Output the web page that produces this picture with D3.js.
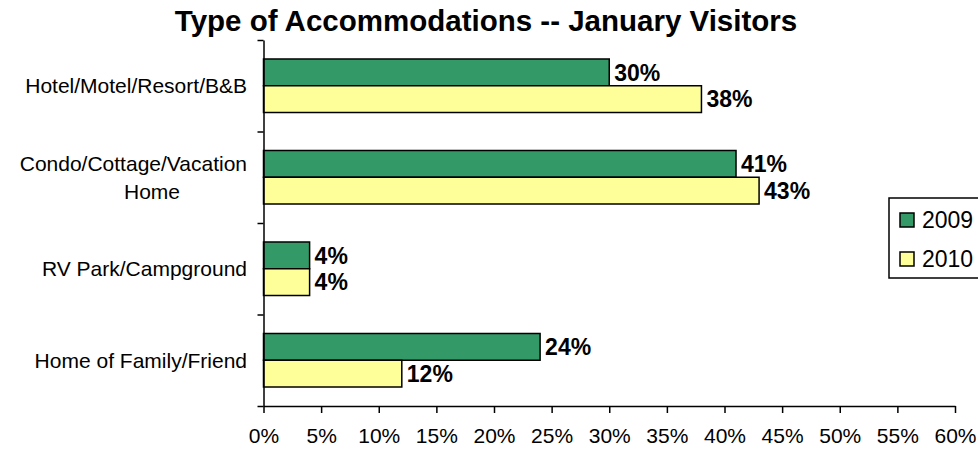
<!DOCTYPE html>
<meta charset="utf-8">
<html>
<head>
<style>
  body { margin: 0; background: #fff; }
  svg { display: block; font-family: "Liberation Sans", Arial, sans-serif; }
  .axis path, .axis line { stroke: #000; stroke-width: 1.5px; }
  .axis text { font-size: 21px; fill: #000; }
  .cat { font-size: 21px; fill: #000; }
  .val { font-size: 23px; font-weight: bold; fill: #000; }
</style>
<script src="https://d3js.org/d3.v7.min.js"></script>
</head>
<body>
<svg width="978" height="450"></svg>
<script>

var title = "Type of Accommodations -- January Visitors";
var categories = ["Hotel/Motel/Resort/B&B", "Condo/Cottage/Vacation Home", "RV Park/Campground", "Home of Family/Friend"];
var catLines = [["Hotel/Motel/Resort/B&B"], ["Condo/Cottage/Vacation", "Home"], ["RV Park/Campground"], ["Home of Family/Friend"]];
var seriesNames = ["2009", "2010"];
var values2009 = [30, 41, 4, 24];
var values2010 = [38, 43, 4, 12];
var xTicks = [0, 5, 10, 15, 20, 25, 30, 35, 40, 45, 50, 55, 60];
var colors = ["#339966", "#FFFF99"];

var svg = d3.select("svg");
var plotLeft = 263.5, plotRight = 955, plotTop = 40, plotBottom = 406;

var x = d3.scaleLinear().domain([0, 60]).range([plotLeft, plotRight]);
var y = d3.scaleBand().domain(categories).range([plotTop, plotBottom]);
var y1 = d3.scaleBand().domain(seriesNames).range([0, y.bandwidth()]).paddingOuter(0.71);
var yEdge = d3.scaleLinear().domain([0, categories.length]).range([plotTop, plotBottom]);
var color = d3.scaleOrdinal().domain(seriesNames).range(colors);

var rows = categories.map(function(c, i) {
  return { cat: c, vals: [{ s: "2009", v: values2009[i] }, { s: "2010", v: values2010[i] }] };
});

// title
svg.append("text")
  .attr("x", 486).attr("y", 31)
  .attr("text-anchor", "middle")
  .style("font-size", "29.5px").style("font-weight", "bold")
  .text(title);

// bars
var groups = svg.selectAll(".grp").data(rows).enter().append("g")
  .attr("class", "grp")
  .attr("transform", function(d) { return "translate(0," + y(d.cat) + ")"; });

groups.selectAll("rect").data(function(d) { return d.vals; }).enter().append("rect")
  .attr("x", x(0))
  .attr("y", function(d) { return y1(d.s); })
  .attr("width", function(d) { return x(d.v) - x(0); })
  .attr("height", y1.bandwidth())
  .attr("fill", function(d) { return color(d.s); })
  .attr("stroke", "#000").attr("stroke-width", 1.5);

groups.selectAll(".val").data(function(d) { return d.vals; }).enter().append("text")
  .attr("class", "val")
  .attr("x", function(d) { return x(d.v) + 5; })
  .attr("y", function(d) { return y1(d.s) + y1.bandwidth() / 2; })
  .attr("dy", "0.36em")
  .text(function(d) { return d.v + "%"; });

// x axis
svg.append("g").attr("class", "axis")
  .attr("transform", "translate(0," + plotBottom + ")")
  .call(d3.axisBottom(x).tickValues(xTicks).tickSize(7).tickSizeOuter(0).tickPadding(15)
    .tickFormat(function(d) { return d + "%"; }));

// y axis (ticks at category boundaries)
svg.append("g").attr("class", "axis")
  .attr("transform", "translate(" + plotLeft + ",0)")
  .call(d3.axisLeft(yEdge).tickValues(d3.range(categories.length + 1)).tickSize(6).tickSizeOuter(0).tickFormat(""));

// category labels
catLines.forEach(function(lines, i) {
  var cy = y(categories[i]) + y.bandwidth() / 2;
  var t = svg.append("text").attr("class", "cat");
  if (lines.length === 1) {
    t.attr("x", 247).attr("y", cy).attr("dy", "0.36em").attr("text-anchor", "end").text(lines[0]);
  } else {
    t.append("tspan").attr("x", 247).attr("y", cy - 14).attr("dy", "0.36em").attr("text-anchor", "end").text(lines[0]);
    t.append("tspan").attr("x", 152).attr("y", cy + 14).attr("dy", "0.36em").attr("text-anchor", "middle").text(lines[1]);
  }
});

// legend
var legend = svg.append("g").attr("transform", "translate(889,198)");
legend.append("rect")
  .attr("width", 110).attr("height", 80)
  .attr("fill", "#fff").attr("stroke", "#000").attr("stroke-width", 1.5);
var items = legend.selectAll(".li").data(seriesNames).enter().append("g")
  .attr("transform", function(d, i) { return "translate(11," + (15 + i * 39) + ")"; });
items.append("rect")
  .attr("width", 14).attr("height", 14)
  .attr("fill", function(d) { return color(d); })
  .attr("stroke", "#000").attr("stroke-width", 1.5);
items.append("text")
  .attr("x", 22).attr("y", 7).attr("dy", "0.36em")
  .style("font-size", "23px")
  .text(function(d) { return d; });

</script>
</body>
</html>
